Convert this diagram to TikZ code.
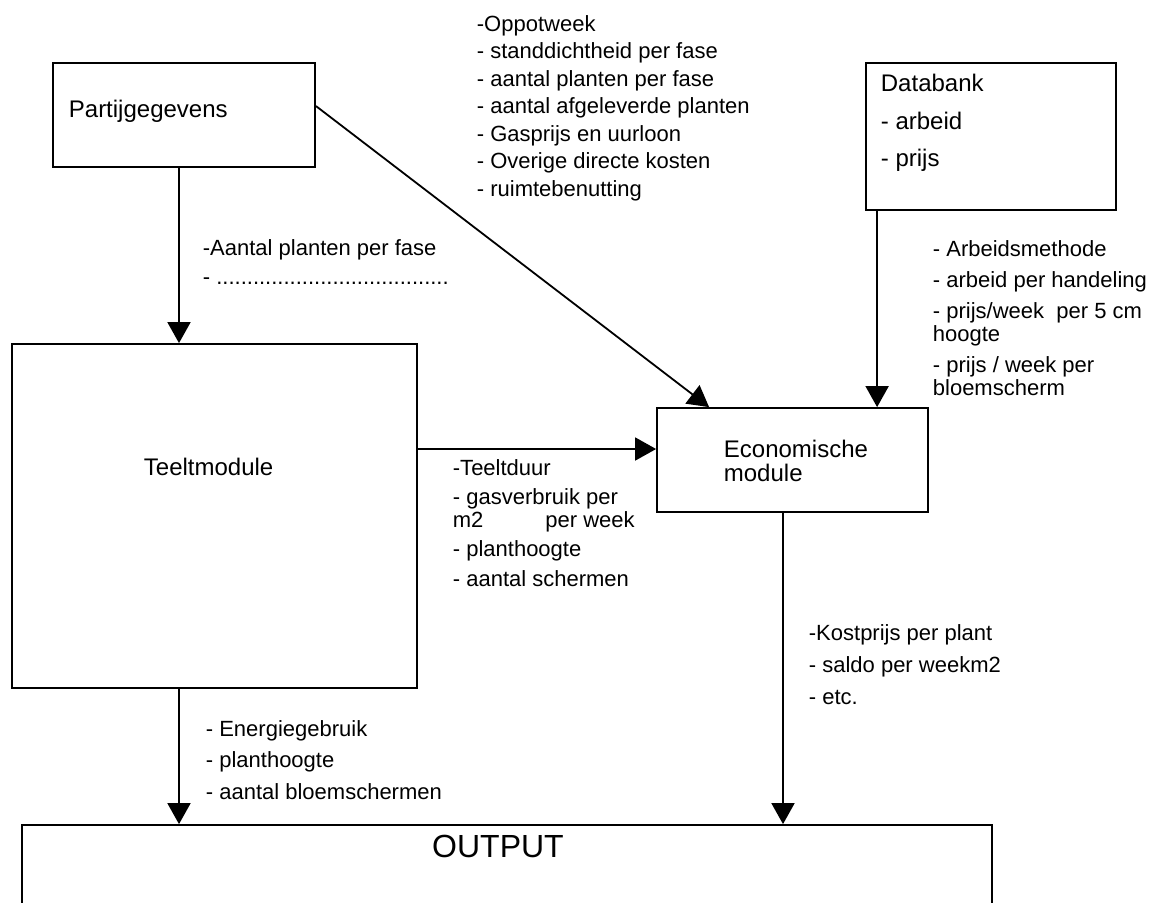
\documentclass[tikz,border=0pt]{standalone}
\usepackage{fontspec}
\setmainfont{Liberation Sans}
\usetikzlibrary{arrows.meta}

\begin{document}
\begin{tikzpicture}[x=0.5pt,y=-0.5pt,line width=0.9pt,>={Triangle[length=10.5pt,width=11.5pt]}]
\tikzstyle{box} = [rectangle, draw=black, inner sep=0pt]
\tikzstyle{lst} = [anchor=north west, align=left, inner sep=0pt, font=\fontsize{11}{11.5}\selectfont]
\tikzstyle{boxtxt} = [inner sep=0pt, font=\fontsize{12}{12}\selectfont]
\useasboundingbox (0,0) rectangle (1157,902);
\clip (0,0) rectangle (1157,902);
% boxes
\node (partij) [box, minimum width=131pt, minimum height=52pt] at (184,115) {};
\node (databank) [box, minimum width=125pt, minimum height=73.5pt] at (991,136.5) {};
\node (teelt) [box, minimum width=202.5pt, minimum height=172pt] at (214.5,516) {};
\node (econ) [box, minimum width=135.5pt, minimum height=52pt] at (792.5,460) {};
\node (output) [box, minimum width=485pt, minimum height=67.5pt] at (507,892.5) {};
% box texts
\node (partijtxt) [boxtxt, anchor=west] at (68,111) {Partijgegevens};
\node (teelttxt) [boxtxt, anchor=west] at (143,467) {Teeltmodule};
\node (econtxt) [boxtxt, anchor=north west, align=left] at (723,439.5) {Economische\\module};
\node (dbtxt) [boxtxt, anchor=north west, align=left, font=\fontsize{12}{18.75}\selectfont] at (880,73.5) {Databank\\- arbeid\\- prijs};
\node (outtxt) [inner sep=0pt, font=\fontsize{16}{16}\selectfont] at (498,846) {OUTPUT};
% lists
\node (invoer) [lst, font=\fontsize{11}{13.75}\selectfont] at (476,14.5) {-Oppotweek\\- standdichtheid per fase\\- aantal planten per fase\\- aantal afgeleverde planten\\- Gasprijs en uurloon\\- Overige directe kosten\\- ruimtebenutting};
\node (fasen) [lst, font=\fontsize{11}{14.5}\selectfont] at (202,238.5) {-Aantal planten per fase\\- ......................................};
\node (arbeid) [lst] at (932,239.5) {- Arbeidsmethode\\[4pt]- arbeid per handeling\\[4pt]- prijs/week~~per 5 cm\\hoogte\\[4pt]- prijs / week per\\bloemscherm};
\node (teeltuit) [lst] at (452,458.5) {-Teeltduur\\[3pt]- gasverbruik per\\m2\hspace{31pt}per week\\[3pt]- planthoogte\\[3.5pt]- aantal schermen};
\node (energie) [lst, font=\fontsize{11}{15.75}\selectfont] at (205,719.5) {- Energiegebruik\\- planthoogte\\- aantal bloemschermen};
\node (kosten) [lst, font=\fontsize{11}{16}\selectfont] at (808,623.5) {-Kostprijs per plant\\- saldo per weekm2\\- etc.};
% connectors
\coordinate (partijout) at ([xshift=-2.5pt]partij.south);
\draw[->] (partijout) -- (partijout |- teelt.north);
\draw[->] ([yshift=4.5pt]partij.east) -- ([xshift=26.5pt]econ.north west);
\coordinate (dbout) at ([xshift=6pt]databank.south west);
\draw[->] (dbout) -- (dbout |- econ.north);
\coordinate (econin) at ([yshift=5.5pt]econ.west);
\draw[->] (teelt.east |- econin) -- (econin);
\coordinate (teeltout) at ([xshift=-17.75pt]teelt.south);
\draw[->] (teeltout) -- (teeltout |- output.north);
\coordinate (econout) at ([xshift=-4.75pt]econ.south);
\draw[->] (econout) -- (econout |- output.north);
\end{tikzpicture}
\end{document}
